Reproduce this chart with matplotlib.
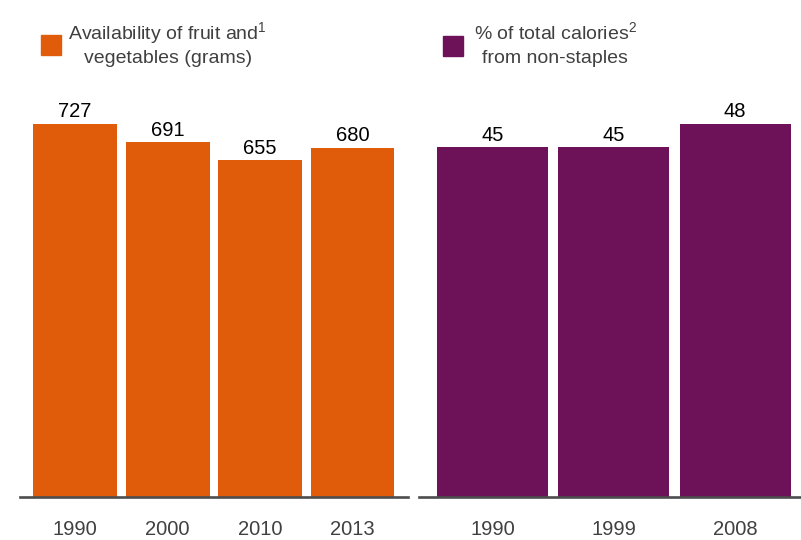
import matplotlib
matplotlib.use("Agg")
import matplotlib.pyplot as plt
from matplotlib.patches import Rectangle

plt.rcParams['font.family'] = ['Liberation Sans', 'DejaVu Sans']
plt.rcParams['mathtext.fontset'] = 'custom'
plt.rcParams['mathtext.rm'] = 'Liberation Sans'
plt.rcParams['mathtext.default'] = 'regular'

# Data
fv_years = ["1990", "2000", "2010", "2013"]
fv_values = [727, 691, 655, 680]
cal_years = ["1990", "1999", "2008"]
cal_values = [45, 45, 48]

ORANGE = "#E05C0B"
PURPLE = "#6D1159"
TEXT = "#404040"
LINE = "#4d4d4d"

W, H = 801, 540
fig = plt.figure(figsize=(W / 100, H / 100), dpi=100)

bottom_px, top_px = 497, 123.5
ax_b = (H - bottom_px) / H
ax_h = (bottom_px - top_px) / H

ax1 = fig.add_axes([20 / W, ax_b, 388 / W, ax_h])
ax2 = fig.add_axes([419 / W, ax_b, 382 / W, ax_h])


def style(ax, labels, values, color, width, xlim):
    x = list(range(len(labels)))
    bars = ax.bar(x, values, width=width, color=color, zorder=1)
    ax.set_xlim(*xlim)
    ax.set_ylim(0, max(values))
    ax.set_xticks(x)
    ax.set_xticklabels(labels, fontsize=14.5, color=TEXT)
    ax.tick_params(axis='x', length=0, pad=16.5)
    ax.set_yticks([])
    for s in ['top', 'left', 'right']:
        ax.spines[s].set_visible(False)
    ax.spines['bottom'].set_color(LINE)
    ax.spines['bottom'].set_linewidth(1.9)
    ax.spines['bottom'].set_zorder(3)
    ax.patch.set_visible(False)
    for b, v in zip(bars, values):
        ax.annotate(str(v), (b.get_x() + b.get_width() / 2, v),
                    xytext=(0, 4.5), textcoords='offset points',
                    ha='center', va='baseline', fontsize=14.5, color='black',
                    annotation_clip=False)


style(ax1, fv_years, fv_values, ORANGE, 0.908, (-0.595, 3.6))
style(ax2, cal_years, cal_values, PURPLE, 0.915, (-0.606, 2.544))


def fx(px):
    return px / W


def fy(py):
    return 1 - py / H


# Legend squares
fig.patches.append(Rectangle((fx(41), fy(55)), 20 / W, 20 / H,
                             transform=fig.transFigure, color=ORANGE))
fig.patches.append(Rectangle((fx(443), fy(56)), 20 / W, 20 / H,
                             transform=fig.transFigure, color=PURPLE))

# Legend texts
fig.text(fx(167.5), fy(39), "Availability of fruit and$^{1}$", ha='center',
         va='baseline', fontsize=14, color=TEXT)
fig.text(fx(168), fy(63), "vegetables (grams)", ha='center',
         va='baseline', fontsize=14, color=TEXT)
fig.text(fx(555), fy(39), "% of total calories$^{2}$", ha='center',
         va='baseline', fontsize=14, color=TEXT)
fig.text(fx(555), fy(63), "from non-staples", ha='center',
         va='baseline', fontsize=14, color=TEXT)

fig.savefig("out.png", dpi=100)
